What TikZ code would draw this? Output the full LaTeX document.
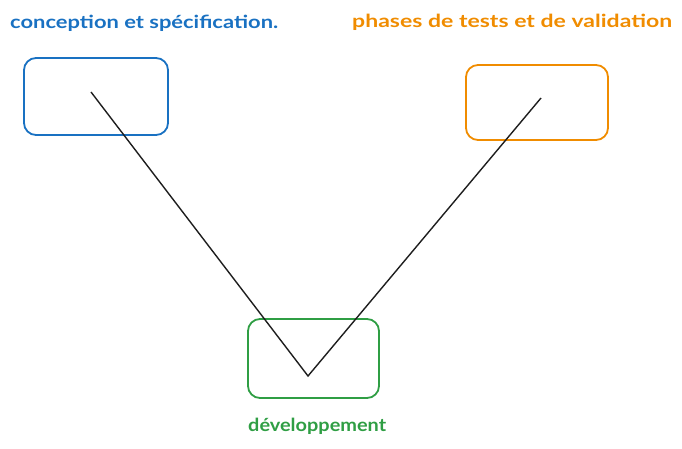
\documentclass[tikz,border=0pt]{standalone}
\usepackage{fontspec}
\usepackage{graphicx}
\setmainfont{Lato}
\definecolor{exblue}{HTML}{1971C2}
\definecolor{exorange}{HTML}{F08C00}
\definecolor{exgreen}{HTML}{2F9E44}
\definecolor{exline}{HTML}{1E1E1E}
\newcommand\fitwidth[2]{\resizebox{#1}{\height}{#2}}
\begin{document}
\begin{tikzpicture}[x=1pt,y=-1pt,
  phasebox/.style={draw, line width=1.8pt, rounded corners=12pt, inner sep=0pt},
  phaselabel/.style={font=\fontsize{18}{21}\selectfont\bfseries, inner sep=0pt, anchor=west},
  vline/.style={draw=exline, line width=1.4pt}]
\useasboundingbox (0,0) rectangle (682,449);
\node[phasebox, draw=exblue, minimum width=144pt, minimum height=77pt] (spec) at (96,96.5) {};
\node[phasebox, draw=exorange, minimum width=142pt, minimum height=75pt] (valid) at (537,102.5) {};
\node[phasebox, draw=exgreen, minimum width=131pt, minimum height=79pt] (dev) at (313.5,358.5) {};
\node[phaselabel, text=exblue] (tspec) at (10,23) {\fitwidth{268pt}{conception et spécification.}};
\node[phaselabel, text=exorange] (tvalid) at (352,22) {\fitwidth{320pt}{phases de tests et de validation}};
\node[phaselabel, text=exgreen] (tdev) at (248,426) {\fitwidth{138pt}{développement}};
\coordinate (a) at (91,92);
\coordinate (b) at (308,376);
\coordinate (c) at (541,98);
\draw[vline] (a) -- (b) -- (c);
\end{tikzpicture}
\end{document}
